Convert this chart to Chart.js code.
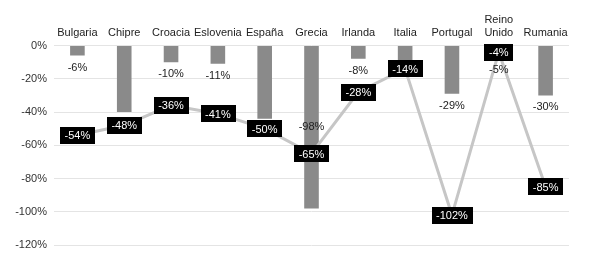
<!DOCTYPE html>
<html>
<head>
<meta charset="utf-8">
<script src="https://cdn.jsdelivr.net/npm/chart.js@4"></script>
<style>
  html, body { margin: 0; padding: 0; background: #fff; }
  #wrap { width: 590px; height: 271px; position: relative; }
</style>
</head>
<body>
<div id="wrap"><canvas id="myChart"></canvas></div>
<script>
// categories and values
var paises = ["Bulgaria", "Chipre", "Croacia", "Eslovenia", "España", "Grecia", "Irlanda", "Italia", "Portugal", ["Reino", "Unido"], "Rumania"]
var barras = [-6, -40, -10, -11, -44, -98, -8, -9, -29, -5, -30]
var linea = [-54, -48, -36, -41, -50, -65, -28, -14, -102, -4, -85]
var yTicks = [0, -20, -40, -60, -80, -100, -120]

var FONT = "'Liberation Sans', Arial, sans-serif"
var BOX_H = 17

var etiquetas = {
    id: "etiquetas",
    afterDatasetsDraw: function(chart) {
        var ctx = chart.ctx
        ctx.save()
        ctx.font = "11px " + FONT
        ctx.textAlign = "center"
        ctx.textBaseline = "middle"

        var metaL = chart.getDatasetMeta(0)

        // bar labels: below the bar end, long bars get it in the middle
        var metaB = chart.getDatasetMeta(1)
        metaB.data.forEach(function(bar, i) {
            var v = barras[i]
            var y
            if (v < -60) {
                y = (bar.y + bar.base) / 2
            } else {
                y = bar.y + 12
                var pt = metaL.data[i]
                // push the label out from under a box sitting just above it
                if (bar.y > pt.y && y - 6 < pt.y + BOX_H / 2) y = pt.y + BOX_H / 2 + 9
            }
            ctx.fillStyle = "#222"
            ctx.fillText(v + "%", bar.x, y)
        })

        // line labels: white text on black box
        metaL.data.forEach(function(pt, i) {
            var txt = linea[i] + "%"
            var w = ctx.measureText(txt).width + 9
            ctx.fillStyle = "#000"
            ctx.fillRect(Math.round(pt.x - w / 2), Math.round(pt.y - BOX_H / 2), Math.round(w), BOX_H)
            ctx.fillStyle = "#fff"
            ctx.fillText(txt, pt.x, pt.y + 1)
        })
        ctx.restore()
    }
}

var chart = new Chart(document.getElementById("myChart").getContext("2d"), {
    type: "bar",
    data: {
        labels: paises,
        datasets: [
            {
                type: "line",
                data: linea,
                borderColor: "#c6c6c6",
                borderWidth: 3,
                pointRadius: 0,
                tension: 0,
                order: 0
            },
            {
                data: barras,
                backgroundColor: "#8a8a8a",
                barPercentage: 0.4,
                categoryPercentage: 0.78,
                order: 1
            }
        ]
    },
    options: {
        responsive: true,
        maintainAspectRatio: false,
        animation: false,
        layout: { padding: { top: 8, right: 21, bottom: 26, left: 0 } },
        plugins: { legend: { display: false }, tooltip: { enabled: false } },
        scales: {
            x: {
                position: "top",
                grid: { display: false, drawTicks: false },
                border: { display: false },
                afterFit: function(s) { s.height = 37.5 },
                ticks: { color: "#222", font: { family: FONT, size: 11 }, padding: 6, maxRotation: 0, autoSkip: false }
            },
            y: {
                min: -120,
                max: 0,
                afterFit: function(s) { s.width = 54 },
                afterBuildTicks: function(s) { s.ticks = yTicks.map(function(v) { return { value: v } }) },
                grid: { color: "#e4e4e4", drawTicks: false, lineWidth: 1 },
                border: { display: false },
                ticks: {
                    color: "#333",
                    font: { family: FONT, size: 11 },
                    padding: 7,
                    callback: function(v) { return v + "%" }
                }
            }
        }
    },
    plugins: [etiquetas]
})
</script>
</body>
</html>
